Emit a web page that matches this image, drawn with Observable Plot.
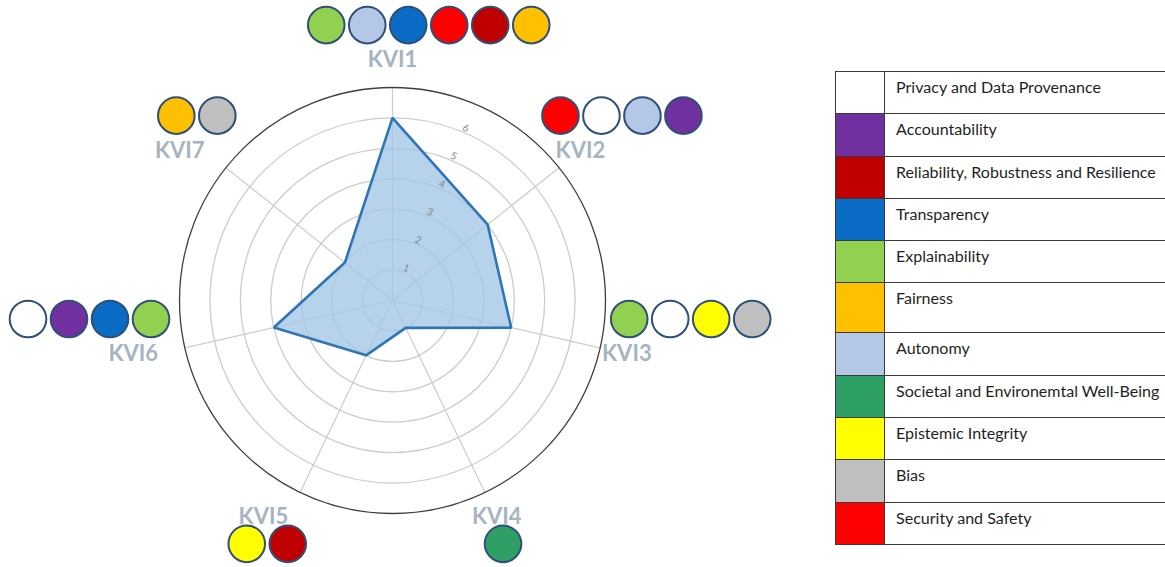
<!DOCTYPE html>
<html>
<head>
<meta charset="utf-8">
<script src="https://cdn.jsdelivr.net/npm/d3@7"></script>
<script src="https://cdn.jsdelivr.net/npm/@observablehq/plot@0.6"></script>
<style>
  html, body { margin: 0; padding: 0; background: #fff; }
  #wrap { position: relative; width: 1165px; height: 567px; overflow: hidden; }
  #chart { position: absolute; left: 0; top: 0; }
  #legend { position: absolute; left: 835px; top: 71px; width: 345px;
            border-top: 1.5px solid #3a3a3a; border-left: 1.5px solid #3a3a3a;
            font-family: "Lato", "Open Sans", sans-serif; color: #1f1f1f; }
  .row { display: flex; border-bottom: 1.5px solid #3a3a3a; box-sizing: border-box; }
  .sw { width: 48px; flex: none; border-right: 1.5px solid #3a3a3a; }
  .lab { padding-left: 11px; padding-top: 5px; line-height: 20px; white-space: nowrap; }
</style>
</head>
<body>
<div id="wrap">
  <div id="chart"></div>
  <div id="legend"></div>
</div>
<script>
// ---------- data ----------
const kvis = ["KVI1", "KVI2", "KVI3", "KVI4", "KVI5", "KVI6", "KVI7"];
const scores = [6, 4, 4, 1, 2, 4, 2];
const tickValues = [1, 2, 3, 4, 5, 6];
const axisMax = 7;

const principles = [
  "Privacy and Data Provenance",
  "Accountability",
  "Reliability, Robustness and Resilience",
  "Transparency",
  "Explainability",
  "Fairness",
  "Autonomy",
  "Societal and Environemtal Well-Being",
  "Epistemic Integrity",
  "Bias",
  "Security and Safety"
];
const principleColors = [
  "#ffffff", "#7030a0", "#c00000", "#0a6cc4", "#92d050", "#ffc000",
  "#b4c7e7", "#2ea066", "#ffff00", "#bfbfbf", "#ff0000"
];

const kvi1Principles = ["Explainability", "Autonomy", "Transparency", "Security and Safety", "Reliability, Robustness and Resilience", "Fairness"];
const kvi2Principles = ["Security and Safety", "Privacy and Data Provenance", "Autonomy", "Accountability"];
const kvi3Principles = ["Explainability", "Privacy and Data Provenance", "Epistemic Integrity", "Bias"];
const kvi4Principles = ["Societal and Environemtal Well-Being"];
const kvi5Principles = ["Epistemic Integrity", "Reliability, Robustness and Resilience"];
const kvi6Principles = ["Privacy and Data Provenance", "Accountability", "Transparency", "Explainability"];
const kvi7Principles = ["Fairness", "Bias"];
const kviPrinciples = [kvi1Principles, kvi2Principles, kvi3Principles, kvi4Principles, kvi5Principles, kvi6Principles, kvi7Principles];

// ---------- layout (style only) ----------
const cx = 392, cy = 300, outerPx = 213;
const unit = outerPx / axisMax;          // px per value unit
const labelR = 7.9;                      // label radius in value units
const iconR = 18.3;                      // icon radius px
const iconGap = 41 / unit;               // icon spacing in units
const iconD = 36.6 / unit;               // icon diameter in units
const tickAngle = 23 * Math.PI / 180;
// share of each icon row lying left of its label anchor (like a text-anchor)
const rowAlign = [0.35, 0.24, 0.10, 0.33, 0.77, 0.93, 0.60];

const ang = i => 2 * Math.PI * i / kvis.length;

const polygon = scores.map((v, i) => ({kvi: kvis[i], x: v * Math.sin(ang(i)), y: v * Math.cos(ang(i))}));
const spokes = kvis.map((k, i) => ({kvi: k, x1: 0, y1: 0, x2: axisMax * Math.sin(ang(i)), y2: axisMax * Math.cos(ang(i))}));
const rings = tickValues.map(v => ({v, outer: false})).concat([{v: axisMax, outer: true}]);
const labels = kvis.map((k, i) => ({
  kvi: k, s: Math.sin(ang(i)), c: Math.cos(ang(i)),
  x: labelR * Math.sin(ang(i)), y: labelR * Math.cos(ang(i))
}));
const icons = [];
labels.forEach((L, i) => {
  const items = kviPrinciples[i];
  const m = items.length;
  const W = (m - 1) * iconGap + iconD;
  const x0 = L.x - rowAlign[i] * W + iconD / 2;
  const yRow = L.y + (L.c > -0.5 ? 1.15 : -0.88);
  items.forEach((p, j) => icons.push({kvi: L.kvi, principle: p, x: x0 + j * iconGap, y: yRow}));
});

const plot = Plot.plot({
  width: 835,
  height: 567,
  margin: 0,
  x: {domain: [-axisMax, axisMax], range: [cx - outerPx, cx + outerPx], axis: null},
  y: {domain: [-axisMax, axisMax], range: [cy + outerPx, cy - outerPx], axis: null},
  r: {type: "linear", domain: [0, axisMax], range: [0, outerPx]},
  color: {domain: principles, range: principleColors},
  style: {background: "transparent", fontFamily: "Lato, sans-serif"},
  marks: [
    Plot.link(spokes, {x1: "x1", y1: "y1", x2: "x2", y2: "y2", stroke: "#cccccc", strokeWidth: 1.2}),
    Plot.dot(rings.filter(d => !d.outer), {x: () => 0, y: () => 0, r: "v", fill: "none", stroke: "#cccccc", strokeWidth: 1.3}),
    Plot.dot(rings.filter(d => d.outer), {x: () => 0, y: () => 0, r: "v", fill: "none", stroke: "#3f3f3f", strokeWidth: 1.3}),
    Plot.line(polygon, {x: "x", y: "y", curve: "linear-closed", fill: "#a3c5e6", fillOpacity: 0.78, stroke: "#2e75b6", strokeWidth: 2.6, strokeLinejoin: "miter"}),
    Plot.text(tickValues, {
      x: v => (v + 0.15) * Math.sin(tickAngle), y: v => (v + 0.15) * Math.cos(tickAngle),
      text: v => String(v), rotate: 23, fontSize: 10, fill: "#858585"
    }),
    Plot.text(labels.filter(d => d.s >= -0.1), {x: "x", y: "y", text: "kvi", textAnchor: "middle", fontSize: 22, fontWeight: "bold", fill: "#a6b4bf", fontFamily: "Lato, sans-serif"}),
    Plot.text(labels.filter(d => d.s < -0.1), {x: "x", y: "y", text: "kvi", textAnchor: "end", fontSize: 22, fontWeight: "bold", fill: "#a6b4bf", fontFamily: "Lato, sans-serif"}),
    Plot.dot(icons, {x: "x", y: "y", r: iconR, fill: "principle", stroke: "#2f4f78", strokeWidth: 2})
  ]
});
document.getElementById("chart").appendChild(plot);

// ---------- legend ----------
const canvas = document.createElement("canvas");
const ctx = canvas.getContext("2d");
ctx.font = "15px Lato";
const wRef = ctx.measureText("Reliability, Robustness and Resilience").width;
const legendFont = 15 * 260 / wRef;
const legend = document.getElementById("legend");
principles.forEach((p, i) => {
  const row = document.createElement("div");
  row.className = "row";
  row.style.height = (p === "Fairness" ? 50 : 42.3) + "px";
  const sw = document.createElement("div");
  sw.className = "sw";
  sw.style.background = principleColors[i];
  const lab = document.createElement("div");
  lab.className = "lab";
  lab.style.fontSize = legendFont.toFixed(2) + "px";
  lab.textContent = p;
  row.appendChild(sw);
  row.appendChild(lab);
  legend.appendChild(row);
});
</script>
</body>
</html>
